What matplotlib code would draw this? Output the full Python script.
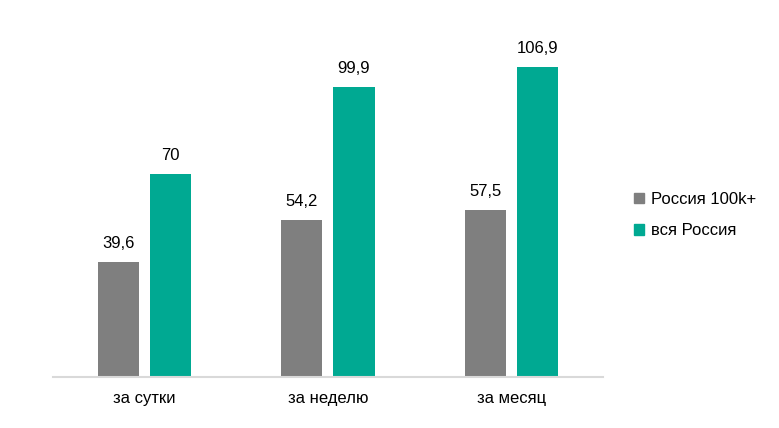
import numpy as np
import matplotlib.pyplot as plt
from matplotlib.patches import Patch

plt.rcParams['font.family'] = ['Liberation Sans', 'DejaVu Sans']

categories = ['за сутки', 'за неделю', 'за месяц']
russia_100k = [39.6, 54.2, 57.5]
russia_all = [70, 99.9, 106.9]
series_names = ['Россия 100k+', 'вся Россия']

color_grey = '#7f7f7f'
color_teal = '#00a992'

fig = plt.figure(figsize=(7.79, 4.28), dpi=100)
ax = fig.add_axes([53 / 779, 51 / 428, 550 / 779, 348 / 428])

x = np.arange(len(categories))
width = 0.224
off = 0.142
b1 = ax.bar(x - off, russia_100k, width, color=color_grey)
b2 = ax.bar(x + off, russia_all, width, color=color_teal)

# value labels above bars, decimal comma
for bars, vals in ((b1, russia_100k), (b2, russia_all)):
    for rect, v in zip(bars, vals):
        ax.annotate(f'{v:g}'.replace('.', ','),
                    (rect.get_x() + rect.get_width() / 2, rect.get_height()),
                    xytext=(0, 8), textcoords='offset points',
                    ha='center', va='bottom', fontsize=12, color='#000000')

ax.set_xlim(-0.5, 2.5)
ax.set_ylim(0, 120)
ax.set_xticks(x)
ax.set_xticklabels(categories, fontsize=12)
ax.tick_params(axis='x', length=0, pad=10)
ax.set_yticks([])
for s in ('top', 'right', 'left'):
    ax.spines[s].set_visible(False)
ax.spines['bottom'].set_color('#d9d9d9')
ax.spines['bottom'].set_linewidth(1.5)

handles = [Patch(color=color_grey), Patch(color=color_teal)]
fig.legend(handles, series_names, loc='center left', bbox_to_anchor=(619 / 779, 213 / 428),
           frameon=False, fontsize=12, handlelength=0.6, handleheight=0.6,
           handletextpad=0.4, labelspacing=1.0)

fig.savefig('out.png', dpi=100)
